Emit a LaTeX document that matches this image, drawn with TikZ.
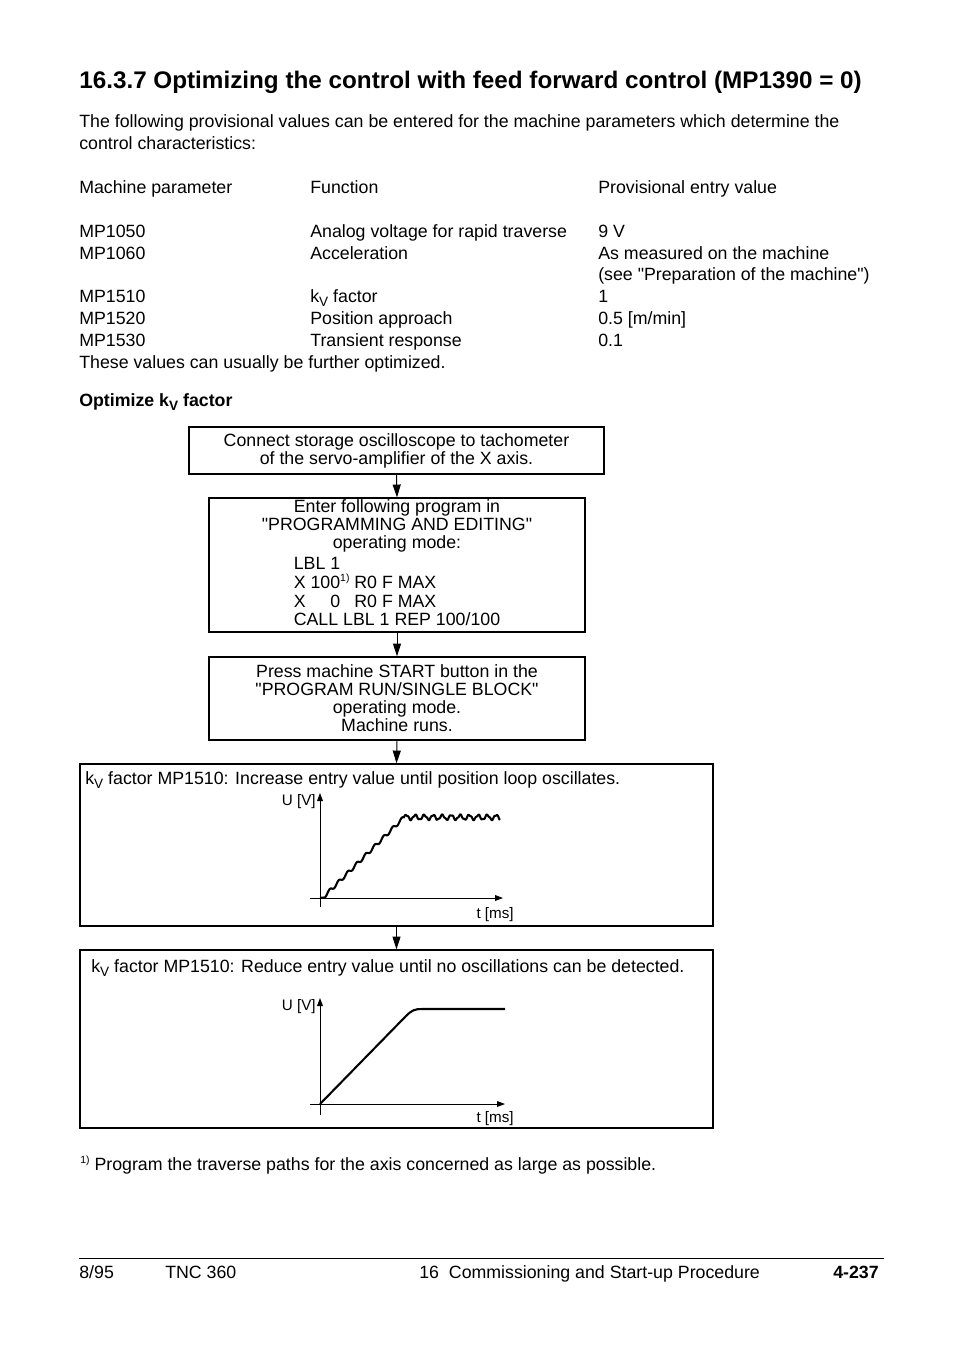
\documentclass[tikz,border=0pt]{standalone}
\usepackage{fontspec}
\setmainfont{Liberation Sans}[Ligatures=TeXOff]
\usepackage{graphicx}
\usetikzlibrary{arrows.meta, positioning}

% k with subscript V, footnote mark
\newcommand{\kv}{k\raisebox{-0.45ex}{\fontsize{8.5}{9}\selectfont V}}
\newcommand{\fnmark}{\raisebox{0.7ex}{\fontsize{6.5}{7}\selectfont 1)}}

\begin{document}
\begin{tikzpicture}[
    x=0.625pt, y=-0.625pt,
    body/.style={anchor=base west, inner sep=0pt, font=\fontsize{11.1}{13.75}\selectfont},
    flowbox/.style={draw, line width=0.8pt, inner sep=0pt, align=center,
      font=\fontsize{11.1}{11.25}\selectfont},
    flow/.style={-{Triangle[length=8pt,width=5pt]}, line width=0.6pt},
    axis/.style={-{Triangle[length=5pt,width=3.6pt]}, line width=0.6pt},
    signal/.style={line width=1.3pt, line join=round},
    axlabel/.style={anchor=base east, inner sep=0pt, font=\fontsize{9.5}{10}\selectfont},
  ]
  \fill[white] (0,0) rectangle (954,1346);
  \useasboundingbox (0,0) rectangle (954,1346);

  % Heading and introduction
  \node[body, font=\fontsize{15}{18}\selectfont\bfseries] (title) at (79,88)
    {\resizebox{489pt}{\height}{16.3.7 Optimizing the control with feed forward control (MP1390 = 0)}};
  \node[body] (intro1) at (79,127) {The following provisional values can be entered for the machine parameters which determine the};
  \node[body] (intro2) at (79,149) {control characteristics:};

  % Parameter table
  \node[body] (hpar) at (79,193)  {Machine parameter};
  \node[body] (hfct) at (310,193) {Function};
  \node[body] (hval) at (598,193) {Provisional entry value};
  \foreach \yb/\mp/\fct/\val in {237/MP1050/Analog voltage for rapid traverse/9 V,
      259/MP1060/Acceleration/As measured on the machine,
      302/MP1510/\kv\ factor/1,
      324/MP1520/Position approach/{0.5 [m/min]},
      346/MP1530/Transient response/0.1}{
    \node[body] (par\yb) at (79,\yb)  {\mp};
    \node[body] (fct\yb) at (310,\yb) {\fct};
    \node[body] (val\yb) at (598,\yb) {\val};
  }
  \node[body] (valsee) at (598,280) {(see "Preparation of the machine")};
  \node[body] (further) at (79,368) {These values can usually be further optimized.};
  \node[body, font=\fontsize{11.1}{13.75}\selectfont\bfseries] (optkv) at (79,406) {Optimize \kv\ factor};

  % Flow chart boxes
  \node[flowbox, minimum width=259.4pt, minimum height=29.4pt] (connect) at (396.5,450.5)
    {Connect storage oscilloscope to tachometer\\of the servo-amplifier of the X axis.};
  \node[flowbox, minimum width=235pt, minimum height=83.75pt] (program) at (397,565)
    {Enter following program in\\"PROGRAMMING AND EDITING"\\operating mode:\\[2pt]
     \def\arraystretch{0.92}%
     \begin{tabular}{@{}l@{}}
       LBL 1\\
       X 100\fnmark\ R0 F MAX\\
       X \phantom{10}0\phantom{\fnmark}\ R0 F MAX\\
       CALL LBL 1 REP 100/100
     \end{tabular}};
  \node[flowbox, minimum width=235pt, minimum height=51.9pt] (run) at (397,698.5)
    {Press machine START button in the\\"PROGRAM RUN/SINGLE BLOCK"\\operating mode.\\Machine runs.};
  \node[flowbox, minimum width=395.6pt, minimum height=101.25pt] (raise) at (396.5,845) {};
  \node[body] (raisetxt) at (85,784) {\kv\ factor MP1510: Increase entry value until position loop oscillates.};
  \node[flowbox, minimum width=395.6pt, minimum height=111.25pt] (reduce) at (396.5,1039) {};
  \node[body] (reducetxt) at (91,972) {\kv\ factor MP1510: Reduce entry value until no oscillations can be detected.};

  \draw[flow] (connect.south) -- (program.north);
  \draw[flow] (program.south) -- (run.north);
  \draw[flow] (run.south) -- (raise.north);
  \draw[flow] (raise.south) -- (reduce.north);

  % Oscillating response
  \draw[axis] (310,898) -- (503,898);
  \draw[axis] (320,907) -- (320,793);
  \node[axlabel] (u1) at (316,805) {U [V]};
  \node[axlabel] (t1) at (514,918) {t [ms]};
  \draw[signal] (320,898) -- (323,897.5)
    -- plot[domain=0:81, samples=170] ({323+\x}, {897.5 - 0.99*(\x - 1.8*sin(\x*40))})
    -- plot[domain=0:96, samples=140] ({404+\x}, {817.3 - 2.4*sin(\x*40) - 0.7*sin(\x*97)});

  % Damped response
  \draw[axis] (310,1104) -- (505,1104);
  \draw[axis] (320,1115) -- (320,998);
  \node[axlabel] (u2) at (316,1010) {U [V]};
  \node[axlabel] (t2) at (514,1122) {t [ms]};
  \draw[signal] (320,1104) -- (406,1016) .. controls (412,1010) and (415,1009) .. (422,1009) -- (505,1009);

  % Footnote and footer
  \node[body] (footnote) at (80,1170) {\fnmark\ Program the traverse paths for the axis concerned as large as possible.};
  \draw[line width=0.6pt] (79,1258) -- (884,1258);
  \node[body] (date) at (79,1278) {8/95};
  \node[body] (model) at (165,1278) {TNC 360};
  \node[body] (chapter) at (419,1278) {16\ \ Commissioning and Start-up Procedure};
  \node[body, anchor=base east, font=\fontsize{11.1}{13.75}\selectfont\bfseries] (page) at (879,1278) {4-237};
\end{tikzpicture}
\end{document}
